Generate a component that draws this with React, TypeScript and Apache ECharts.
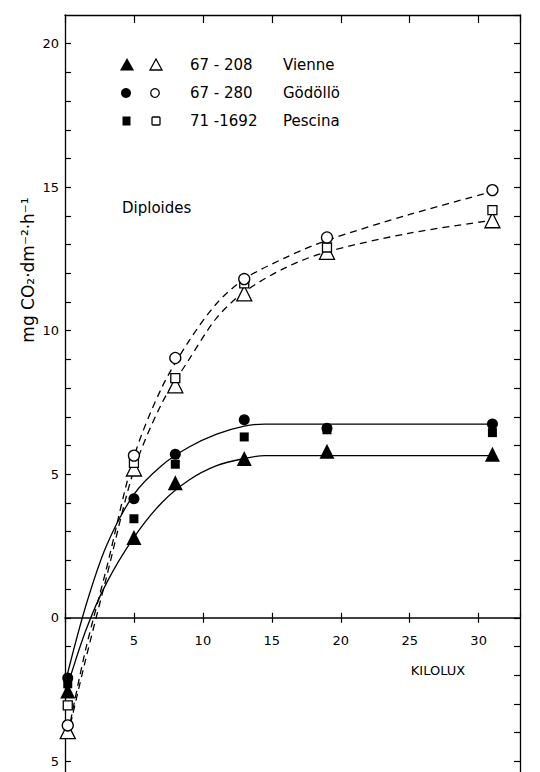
import React, { useEffect, useRef } from "react";
import * as echarts from "echarts";

// Measured points (x = kilolux)
const kilolux = [0.2, 5, 8, 13, 19, 31];
const vienneFilled = [-2.55, 2.8, 4.7, 5.55, 5.8, 5.7];
const godolloFilled = [-2.1, 4.15, 5.7, 6.9, 6.6, 6.75];
const pescinaFilled = [-2.3, 3.45, 5.35, 6.3, 6.55, 6.45];
const vienneOpen = [-3.95, 5.2, 8.1, 11.3, 12.75, 13.85];
const godolloOpen = [-3.75, 5.65, 9.05, 11.8, 13.25, 14.9];
const pescinaOpen = [-3.05, 5.4, 8.35, 11.65, 12.9, 14.2];

// Fitted curves
const solidX = [0.1, 1.5, 3, 5, 7, 9, 11, 13, 14.5, 31];
const solidHigh = [-2.1, 0.4, 2.5, 4.3, 5.3, 5.95, 6.4, 6.68, 6.75, 6.75];
const solidLow = [-2.5, -0.45, 1.2, 2.8, 4.0, 4.8, 5.3, 5.55, 5.65, 5.65];
const dashedX = [0.4, 1.5, 3, 5, 7, 9, 11, 13, 16, 19, 25, 31];
const dashedHigh = [-3.6, -1.1, 1.7, 5.6, 8.0, 9.65, 10.95, 11.8, 12.55, 13.15, 14.05, 14.85];
const dashedLow = [-3.7, -1.45, 1.4, 5.15, 7.45, 9.0, 10.45, 11.35, 12.2, 12.75, 13.4, 13.85];

const legendRows = [
  { code: "67 - 208", name: "Vienne" },
  { code: "67 - 280", name: "Gödöllö" },
  { code: "71 -1692", name: "Pescina" },
];

const FONT = "DejaVu Sans";

// layout
const GRID_TOP = 15;
const GRID_BOTTOM = -18;
const H = 772;
const Y_MIN = -6;
const Y_MAX = 21;

function pairs(xs: number[], ys: number[]) {
  return xs.map((x, i) => [x, ys[i]]);
}

export default function App() {
  const ref = useRef<HTMLDivElement>(null);
  useEffect(() => {
    document.body.style.margin = "0";
    const chart = echarts.init(ref.current!, null, { renderer: "svg" });
    const black = "#000";
    const gridH = H - GRID_TOP - GRID_BOTTOM;
    const zeroFromBottom = (0 - Y_MIN) / (Y_MAX - Y_MIN) * gridH;
    const xOffset = -zeroFromBottom;

    const scatter = (data: number[], symbol: string, size: number, filled: boolean) => ({
      type: "scatter",
      data: pairs(kilolux, data),
      symbol,
      symbolSize: size,
      clip: false,
      z: 5,
      itemStyle: filled
        ? { color: black, borderColor: black, borderWidth: 0, opacity: 1 }
        : { color: "#fff", borderColor: black, borderWidth: 1.3, opacity: 1 },
    });
    const line = (xs: number[], ys: number[], dashed: boolean) => ({
      type: "line",
      data: pairs(xs, ys),
      smooth: 0.3,
      showSymbol: false,
      symbol: "none",
      z: 3,
      lineStyle: { color: black, width: 1.3, type: dashed ? [7, 5] : "solid" },
    });
    const legendY = [65, 93, 121];
    const graphics: any[] = [];
    graphics.push({ type: "polygon", shape: { points: [[127, 58], [120, 70.5], [134, 70.5]] }, style: { fill: black } });
    graphics.push({ type: "polygon", shape: { points: [[156, 59], [150, 70], [162, 70]] }, style: { fill: "#fff", stroke: black, lineWidth: 1.3 } });
    graphics.push({ type: "circle", shape: { cx: 126, cy: 93, r: 5 }, style: { fill: black } });
    graphics.push({ type: "circle", shape: { cx: 155, cy: 93, r: 4.3 }, style: { fill: "#fff", stroke: black, lineWidth: 1.3 } });
    graphics.push({ type: "rect", shape: { x: 122.5, y: 116.5, width: 8, height: 9 }, style: { fill: black } });
    graphics.push({ type: "rect", shape: { x: 152, y: 117, width: 8, height: 8, r: 1 }, style: { fill: "#fff", stroke: black, lineWidth: 1.3 } });
    legendRows.forEach((r, i) => {
      graphics.push({ type: "text", x: 190, y: legendY[i], style: { text: r.code, font: `15px "${FONT}"`, fill: black, textVerticalAlign: "middle" } });
      graphics.push({ type: "text", x: 283, y: legendY[i], style: { text: r.name, font: `15px "${FONT}"`, fill: black, textVerticalAlign: "middle" } });
    });
    graphics.push({ type: "text", x: 122, y: 208, style: { text: "Diploides", font: `15px "${FONT}"`, fill: black, textVerticalAlign: "middle" } });
    graphics.push({ type: "text", x: 438, y: 670, style: { text: "KILOLUX", font: `13px "${FONT}"`, fill: black, textAlign: "center", textVerticalAlign: "middle" } });
    graphics.push({
      type: "text",
      x: 28,
      y: 270,
      rotation: Math.PI / 2,
      style: { text: "mg CO₂·dm⁻²·h⁻¹", font: `17px "${FONT}"`, fill: black, textAlign: "center", textVerticalAlign: "middle" },
    });

    const xBase = { type: "value", min: 0, max: 33, interval: 5, splitLine: { show: false } };

    chart.setOption({
      animation: false,
      backgroundColor: "#fff",
      textStyle: { fontFamily: FONT },
      grid: { left: 65, right: 20, top: GRID_TOP, bottom: GRID_BOTTOM, show: false, containLabel: false, outerBoundsMode: "none" },
      xAxis: [
        {
          ...xBase,
          position: "bottom",
          offset: xOffset,
          axisLine: { onZero: false, lineStyle: { color: black, width: 1.5 } },
          axisTick: { show: true, inside: false, length: 5, lineStyle: { color: black, width: 1.2 } },
          axisLabel: {
            color: black,
            fontSize: 13,
            margin: 16,
            showMaxLabel: false,
            formatter: (v: number) => (v === 0 || v > 30 ? "" : String(v)),
          },
        },
        {
          ...xBase,
          position: "bottom",
          offset: xOffset,
          axisLine: { show: false, onZero: false },
          axisTick: { show: true, inside: true, length: 5, lineStyle: { color: black, width: 1.2 } },
          axisLabel: { show: false },
        },
        {
          ...xBase,
          position: "top",
          axisLine: { onZero: false, lineStyle: { color: black, width: 1.3 } },
          axisTick: { show: true, inside: true, length: 8, lineStyle: { color: black, width: 1.2 } },
          axisLabel: { show: false },
        },
      ],
      yAxis: [
        {
          type: "value",
          min: Y_MIN,
          max: Y_MAX,
          interval: 1,
          position: "left",
          axisLine: { onZero: false, lineStyle: { color: black, width: 1.3 } },
          axisTick: { show: true, inside: true, length: 6, lineStyle: { color: black, width: 1.2 } },
          axisLabel: {
            color: black,
            fontSize: 13,
            margin: 6,
            showMaxLabel: false,
            formatter: (v: number) => (v % 5 === 0 && v <= 20 ? String(Math.abs(v)) : ""),
          },
          splitLine: { show: false },
        },
        {
          type: "value",
          min: Y_MIN,
          max: Y_MAX,
          interval: 1,
          position: "right",
          axisLine: { onZero: false, lineStyle: { color: black, width: 1.3 } },
          axisTick: { show: true, inside: true, length: 6, lineStyle: { color: black, width: 1.2 } },
          axisLabel: { show: false },
          splitLine: { show: false },
        },
      ],
      series: [
        line(solidX, solidHigh, false),
        line(solidX, solidLow, false),
        line(dashedX, dashedHigh, true),
        line(dashedX, dashedLow, true),
        scatter(vienneFilled, "triangle", 15, true),
        scatter(pescinaFilled, "rect", 9, true),
        scatter(godolloFilled, "circle", 11, true),
        scatter(vienneOpen, "triangle", 15, false),
        scatter(pescinaOpen, "rect", 9, false),
        scatter(godolloOpen, "circle", 11, false),
      ],
      graphic: graphics,
    });
    return () => chart.dispose();
  }, []);
  return <div ref={ref} style={{ width: 540, height: 772 }} />;
}
